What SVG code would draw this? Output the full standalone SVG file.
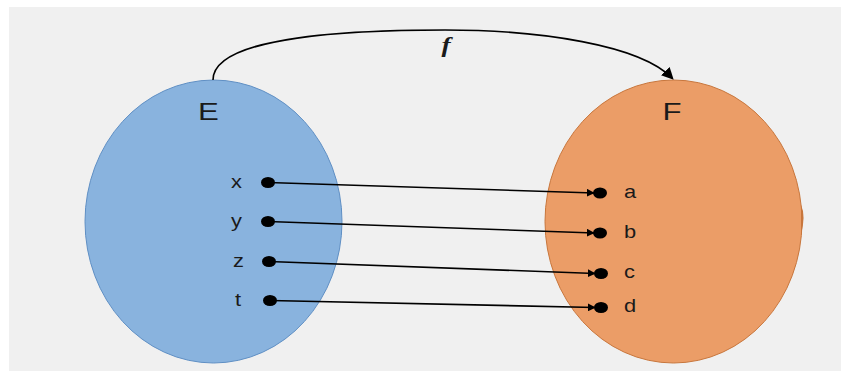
<svg xmlns="http://www.w3.org/2000/svg" width="841" height="376" viewBox="0 0 841 376">
<defs>
<style>
.lbl{font-family:"Liberation Sans",Arial,sans-serif;font-size:17.5px;fill:#1a1a1a}
.set{font-family:"Liberation Sans",Arial,sans-serif;font-size:24px;fill:#1a1a1a;text-anchor:middle}
.dot{fill:#000}
.conn{stroke:#000;stroke-width:1.6;fill:none}
</style>
<marker id="ah" viewBox="0 0 10 10" refX="9" refY="5" markerWidth="8" markerHeight="8" orient="auto" markerUnits="userSpaceOnUse">
<path d="M0,0 L10,5 L0,10 z" fill="#000"/>
</marker>
<marker id="ah2" viewBox="0 0 10 10" refX="8" refY="5" markerWidth="12" markerHeight="12" orient="auto" markerUnits="userSpaceOnUse">
<path d="M0,0 L10,5 L0,10 z" fill="#000"/>
</marker>
</defs>
<rect x="0" y="0" width="841" height="376" fill="#ffffff"/>
<rect x="9" y="7" width="832" height="364" fill="#f0f0f0"/>
<g id="E">
<ellipse cx="213.5" cy="221.5" rx="128.5" ry="141.5" fill="#89b3de" stroke="#5f8fc4" stroke-width="1"/>
<text class="set" transform="translate(208.5,120) scale(1.3,1)">E</text>
</g>
<g id="F">
<ellipse cx="673.5" cy="221.5" rx="128.5" ry="141.5" fill="#eb9d67" stroke="#c8763c" stroke-width="1"/>
<path d="M801,205 q5,10 0,30" fill="#c8763c" stroke="none"/>
<text class="set" transform="translate(672,120) scale(1.3,1)">F</text>
</g>
<g id="elements-E">
<ellipse class="dot" cx="268" cy="182.5" rx="7" ry="5.5"/>
<ellipse class="dot" cx="268" cy="221.5" rx="7" ry="5.5"/>
<ellipse class="dot" cx="269" cy="261.5" rx="7" ry="5.5"/>
<ellipse class="dot" cx="270" cy="300.5" rx="7" ry="5.5"/>
<text class="lbl" transform="translate(231,188) scale(1.25,1)">x</text>
<text class="lbl" transform="translate(231,227) scale(1.25,1)">y</text>
<text class="lbl" transform="translate(233,267) scale(1.25,1)">z</text>
<text class="lbl" transform="translate(235,306) scale(1.25,1)">t</text>
</g>
<g id="elements-F">
<ellipse class="dot" cx="600" cy="193" rx="7" ry="5.5"/>
<ellipse class="dot" cx="600" cy="233" rx="7" ry="5.5"/>
<ellipse class="dot" cx="601" cy="273.5" rx="7" ry="5.5"/>
<ellipse class="dot" cx="601" cy="307.5" rx="7" ry="5.5"/>
<text class="lbl" transform="translate(624,198) scale(1.25,1)">a</text>
<text class="lbl" transform="translate(624,238) scale(1.25,1)">b</text>
<text class="lbl" transform="translate(624,278) scale(1.25,1)">c</text>
<text class="lbl" transform="translate(624,312) scale(1.25,1)">d</text>
</g>
<g id="connectors">
<line class="conn" x1="268" y1="182.5" x2="594" y2="193" marker-end="url(#ah)"/>
<line class="conn" x1="268" y1="221.5" x2="594" y2="233" marker-end="url(#ah)"/>
<line class="conn" x1="269" y1="261.5" x2="595" y2="273.5" marker-end="url(#ah)"/>
<line class="conn" x1="270" y1="300.5" x2="595" y2="307.5" marker-end="url(#ah)"/>
<path class="conn" d="M213,80 C213,35 360,30 445,30 C540,30 640,45 672,78" stroke-width="3" marker-end="url(#ah2)"/>
<text transform="translate(446,52) scale(1.25,1)" font-family="Liberation Serif,'Times New Roman',serif" font-style="italic" font-weight="bold" font-size="22" fill="#1a1a1a" text-anchor="middle">f</text>
</g>
</svg>
